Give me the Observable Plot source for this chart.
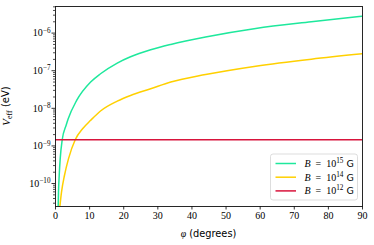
<!DOCTYPE html>
<html><head><meta charset="utf-8">
<script src="https://cdn.jsdelivr.net/npm/d3@7"></script>
<script src="https://cdn.jsdelivr.net/npm/@observablehq/plot@0.6"></script>
<style>body{margin:0;background:#fff}</style>
</head><body><div id="chart"></div>
<script>
// B = 10^15 G
const phiGreen = [0.78, 0.88, 1.09, 1.38, 1.97, 3.14, 3.7, 6.2, 10.3, 13.2, 18.1, 22, 27.9, 33.8, 44, 58.7, 75, 90];
const vGreen   = [2.3e-11, 5.9e-11, 1.66e-10, 4.6e-10, 1.46e-9, 3.6e-9, 5.2e-9, 1.62e-8, 5.0e-8, 8.3e-8, 1.6e-7, 2.35e-7, 3.6e-7, 5.0e-7, 7.9e-7, 1.33e-6, 2.0e-6, 2.82e-6];
// B = 10^14 G
const phiYellow = [1.25, 1.76, 2.64, 3.82, 5.78, 8.0, 10.3, 13.2, 18.1, 22, 27.9, 33.8, 44, 58.7, 75, 90];
const vYellow   = [2.3e-11, 5.9e-11, 1.66e-10, 4.6e-10, 1.46e-9, 2.9e-9, 4.8e-9, 8.5e-9, 1.55e-8, 2.2e-8, 3.3e-8, 5.0e-8, 7.9e-8, 1.32e-7, 2.03e-7, 2.82e-7];
// B = 10^12 G
const phiRed = [0, 90];
const vRed   = [1.46e-9, 1.46e-9];

const xTicks = [0, 10, 20, 30, 40, 50, 60, 70, 80, 90];
const yDomain = [2.45e-11, 5.1e-6];
const seriesNames = ["15", "14", "12"];
const seriesColors = ["#1ee89c", "#ffd000", "#d8143c"];

const majorTicks = [];
const minorTicks = [];
for (let n = -12; n <= -5; n++) {
  for (let k = 1; k <= 9; k++) {
    const v = k * Math.pow(10, n);
    if (v < yDomain[0] || v > yDomain[1]) continue;
    (k === 1 ? majorTicks : minorTicks).push(v);
  }
}

const toRows = (xs, ys) => xs.map((p, i) => ({phi: p, v: ys[i]}));

const W = 374, H = 245, mL = 55, mR = 12, mT = 6, mB = 39;

const plot = Plot.plot({
  width: W, height: H,
  marginLeft: mL, marginRight: mR, marginTop: mT, marginBottom: mB,
  style: {fontFamily: "'Liberation Serif', serif", fontSize: "10px", color: "#000", background: "#fff"},
  x: {domain: [0, 90], label: null},
  y: {type: "log", domain: yDomain, label: null},
  marks: [
    Plot.line(toRows(phiGreen, vGreen), {x: "phi", y: "v", stroke: seriesColors[0], strokeWidth: 1.5, curve: "monotone-x", clip: true}),
    Plot.line(toRows(phiYellow, vYellow), {x: "phi", y: "v", stroke: seriesColors[1], strokeWidth: 1.5, curve: "monotone-x", clip: true}),
    Plot.line(toRows(phiRed, vRed), {x: "phi", y: "v", stroke: seriesColors[2], strokeWidth: 1.5, clip: true}),
    Plot.axisY(minorTicks, {tickSize: 2, tickFormat: () => "", label: null, strokeWidth: 0.7}),
    Plot.axisY(majorTicks, {tickSize: 3.5, tickPadding: 1.5, label: null, strokeWidth: 0.8,
      tickFormat: d => "10^" + Math.round(Math.log10(d))}),
    Plot.axisX(xTicks, {tickSize: 3.5, tickPadding: 2, label: null, strokeWidth: 0.8}),
    Plot.frame({stroke: "#111", strokeWidth: 0.9})
  ]
});

document.getElementById("chart").appendChild(plot);
const svg = d3.select(plot);

// superscript exponents on y tick labels
svg.selectAll('g[aria-label="y-axis tick label"] text').each(function () {
  const t = d3.select(this);
  const s = t.text();
  if (!s.includes("^")) return;
  const exp = s.split("^")[1].replace("-", "\u2212");
  t.text("");
  t.append("tspan").text("10");
  t.append("tspan").attr("dy", "-0.5em").attr("font-size", "0.72em").text(exp);
});

const fR = W - mR, fB = H - mB, fL = mL, fT = mT;

// y title
const yt = svg.append("text")
  .attr("transform", `translate(${fL - 45},${(fT + fB) / 2}) rotate(-90)`)
  .attr("text-anchor", "middle").attr("font-size", 11).attr("fill", "#000")
  .style("white-space", "pre");
yt.append("tspan").attr("font-family", "'Liberation Serif', serif").attr("font-style", "italic").text("V");
yt.append("tspan").attr("font-family", "'Liberation Serif', serif").attr("font-size", "0.72em").attr("dy", "0.3em").text("eff");
yt.append("tspan").attr("font-family", "'DejaVu Sans', sans-serif").attr("dy", "-0.3em").attr("font-size", 10).text("\u00A0(eV)");

// x title
const xt = svg.append("text")
  .attr("x", (fL + fR) / 2).attr("y", fB + 30.5)
  .attr("text-anchor", "middle").attr("font-size", 9.8).attr("fill", "#000")
  .style("white-space", "pre");
xt.append("tspan").attr("font-family", "'Liberation Serif', serif").attr("font-style", "italic").text("\u03C6");
xt.append("tspan").attr("font-family", "'DejaVu Sans', sans-serif").text("\u00A0(degrees)");

// legend
const lg = svg.append("g").attr("text-anchor", "start");
const bx = fR - 91.5, by = fB - 52, bw = 87, bh = 46;
lg.append("rect").attr("x", bx).attr("y", by).attr("width", bw).attr("height", bh)
  .attr("rx", 2.5).attr("fill", "#fff").attr("fill-opacity", 0.85).attr("stroke", "#d4d4d4").attr("stroke-width", 0.8);
seriesNames.forEach((e, i) => {
  const cy = by + 9.5 + i * 13.7;
  lg.append("line").attr("x1", bx + 5).attr("x2", bx + 25.5).attr("y1", cy).attr("y2", cy)
    .attr("stroke", seriesColors[i]).attr("stroke-width", 1.5);
  const t = lg.append("text").attr("x", bx + 34).attr("y", cy).attr("dy", "0.35em")
    .attr("text-anchor", "start")
    .attr("font-size", 10).attr("fill", "#000").attr("font-family", "'Liberation Serif', serif")
    .style("white-space", "pre");
  t.append("tspan").attr("font-style", "italic").text("B");
  t.append("tspan").text("\u2002=\u200210");
  t.append("tspan").attr("font-size", "0.72em").attr("dy", "-0.55em").text(e);
  t.append("tspan").attr("font-family", "'DejaVu Sans', sans-serif").attr("font-size", 9.5).attr("dy", "0.4em").text("\u00A0G");
});
</script>
</body></html>
